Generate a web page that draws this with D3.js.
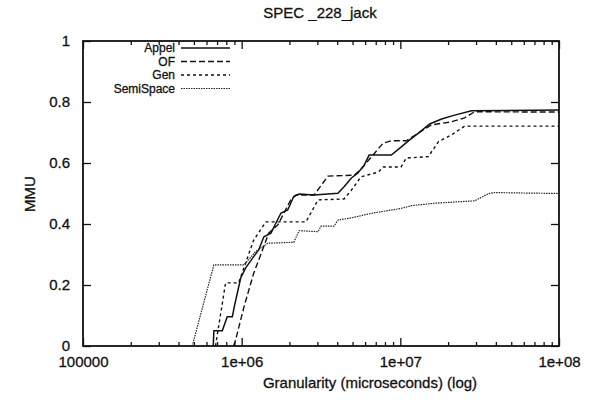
<!DOCTYPE html>
<html><head><meta charset="utf-8">
<script src="https://cdn.jsdelivr.net/npm/d3@7"></script>
<style>
html,body{margin:0;padding:0;background:#fff;}
text{font-family:"Liberation Sans",Arial,Helvetica,sans-serif;fill:#111;stroke:#111;stroke-width:0.3;}
</style></head>
<body><svg id="c" width="590" height="400"></svg>
<script>
// ---- data (granularity in microseconds, MMU) ----
const seriesNames = ["Appel", "OF", "Gen", "SemiSpace"];
const appel = [[6.62e5,0],[6.68e5,0.05],[7.55e5,0.05],[8.11e5,0.096],[8.73e5,0.096],[9.03e5,0.134],[9.86e5,0.223],[1.06e6,0.256],[1.19e6,0.293],[1.28e6,0.315],[1.38e6,0.358],[1.53e6,0.37],[1.68e6,0.413],[1.77e6,0.436],[1.95e6,0.446],[2.13e6,0.49],[2.30e6,0.498],[2.86e6,0.495],[4.04e6,0.501],[4.42e6,0.522],[4.90e6,0.55],[5.40e6,0.567],[5.92e6,0.593],[6.36e6,0.626],[8.77e6,0.626],[1.01e7,0.652],[1.14e7,0.675],[1.30e7,0.698],[1.53e7,0.728],[1.82e7,0.744],[2.20e7,0.757],[2.81e7,0.771],[1e8,0.774]];
const of = [[8.90e5,0],[9.16e5,0.02],[1.035e6,0.129],[1.19e6,0.238],[1.32e6,0.30],[1.48e6,0.37],[1.69e6,0.397],[2.04e6,0.479],[2.20e6,0.495],[2.86e6,0.495],[3.50e6,0.557],[5.12e6,0.56],[5.66e6,0.58],[7.78e6,0.665],[8.77e6,0.673],[1.09e7,0.673],[1.57e7,0.725],[2.10e7,0.735],[2.54e7,0.748],[2.94e7,0.768],[1e8,0.767]];
const gen = [[6.84e5,0],[7.92e5,0.207],[9.57e5,0.207],[1.19e6,0.347],[1.42e6,0.407],[2.54e6,0.407],[3.03e6,0.479],[4.42e6,0.482],[4.90e6,0.51],[5.66e6,0.555],[7.26e6,0.57],[7.80e6,0.587],[1.01e7,0.587],[1.09e7,0.616],[1.50e7,0.621],[1.74e7,0.67],[2.10e7,0.692],[2.43e7,0.714],[2.54e7,0.721],[1e8,0.721]];
const semiSpace = [[4.88e5,0],[6.68e5,0.266],[1.035e6,0.266],[1.225e6,0.31],[1.46e6,0.337],[2.13e6,0.34],[2.30e6,0.378],[3.03e6,0.375],[3.16e6,0.393],[3.82e6,0.393],[4.05e6,0.413],[4.90e6,0.42],[6.55e6,0.435],[1.01e7,0.451],[1.17e7,0.46],[1.64e7,0.468],[2.94e7,0.476],[3.61e7,0.50],[3.94e7,0.503],[1e8,0.50]];
const xMajorTicks = [1e5, 1e6, 1e7, 1e8];
const xTickLabels = ["100000", "1e+06", "1e+07", "1e+08"];
const yTicks = [0, 0.2, 0.4, 0.6, 0.8, 1];
const yTickLabels = ["0", "0.2", "0.4", "0.6", "0.8", "1"];

// ---- layout ----
const L = 83, R = 559, T = 41, B = 346;
const svg = d3.select("#c");
const x = d3.scaleLog().domain([1e5, 1e8]).range([L, R]);
const y = d3.scaleLinear().domain([0, 1]).range([B, T]);

const minor = [];
[1e5, 1e6, 1e7].forEach(d => { for (let k = 2; k <= 9; k++) minor.push(d * k); });

function style(g){ g.select(".domain").remove(); g.selectAll("line").attr("stroke","#111").attr("stroke-width",1.3); }

// bottom ticks
svg.append("g").attr("transform",`translate(0,${B})`)
  .call(d3.axisBottom(x).tickValues(xMajorTicks).tickSize(-8).tickPadding(10)
        .tickFormat((d,i)=>xTickLabels[i]))
  .call(style).selectAll("text").attr("font-size",15).attr("font-family",null);
svg.append("g").attr("transform",`translate(0,${B})`)
  .call(d3.axisBottom(x).tickValues(minor).tickSize(-4).tickFormat(""))
  .call(style);
// top ticks
svg.append("g").attr("transform",`translate(0,${T})`)
  .call(d3.axisTop(x).tickValues(xMajorTicks).tickSize(-8).tickFormat(""))
  .call(style);
svg.append("g").attr("transform",`translate(0,${T})`)
  .call(d3.axisTop(x).tickValues(minor).tickSize(-4).tickFormat(""))
  .call(style);
// left ticks
svg.append("g").attr("transform",`translate(${L},0)`)
  .call(d3.axisLeft(y).tickValues(yTicks).tickSize(-8).tickPadding(13)
        .tickFormat((d,i)=>yTickLabels[i]))
  .call(style).selectAll("text").attr("font-size",15).attr("font-family",null);
// right ticks
svg.append("g").attr("transform",`translate(${R},0)`)
  .call(d3.axisRight(y).tickValues(yTicks).tickSize(-8).tickFormat(""))
  .call(style);

// frame
svg.append("rect").attr("x",L).attr("y",T).attr("width",R-L).attr("height",B-T)
  .attr("fill","none").attr("stroke","#111").attr("stroke-width",1.8);

// lines
const line = d3.line().x(d=>x(d[0])).y(d=>y(d[1]));
const dashes = ["none", "6,3", "3,3", "1.5,1"];
const widths = [1.5, 1.4, 1.4, 1.2];
const colors = ["#111", "#111", "#111", "#222"];
const data = [appel, of, gen, semiSpace];
data.forEach((s,i)=>{
  svg.append("path").datum(s).attr("d",line).attr("fill","none")
    .attr("stroke", colors[i]).attr("stroke-width",widths[i])
    .attr("stroke-dasharray",dashes[i]);
});

// legend
seriesNames.forEach((n,i)=>{
  const ly = 48 + i*13.5;
  svg.append("text").attr("x",175).attr("y",ly).attr("dy","0.35em")
    .attr("text-anchor","end").attr("font-size",12).text(n);
  svg.append("line").attr("x1",181).attr("x2",230).attr("y1",ly).attr("y2",ly)
    .attr("stroke", colors[i]).attr("stroke-width",widths[i])
    .attr("stroke-dasharray",dashes[i]);
});

// titles
svg.append("text").attr("x",320).attr("y",13).attr("dy","0.35em").attr("text-anchor","middle")
  .attr("font-size",15).text("SPEC _228_jack");
svg.append("text").attr("x",370).attr("y",383).attr("dy","0.35em").attr("text-anchor","middle")
  .attr("font-size",15).text("Granularity (microseconds) (log)");
svg.append("text").attr("transform","translate(30,194) rotate(-90)").attr("dy","0.35em")
  .attr("text-anchor","middle").attr("font-size",15).text("MMU");
</script></body></html>
